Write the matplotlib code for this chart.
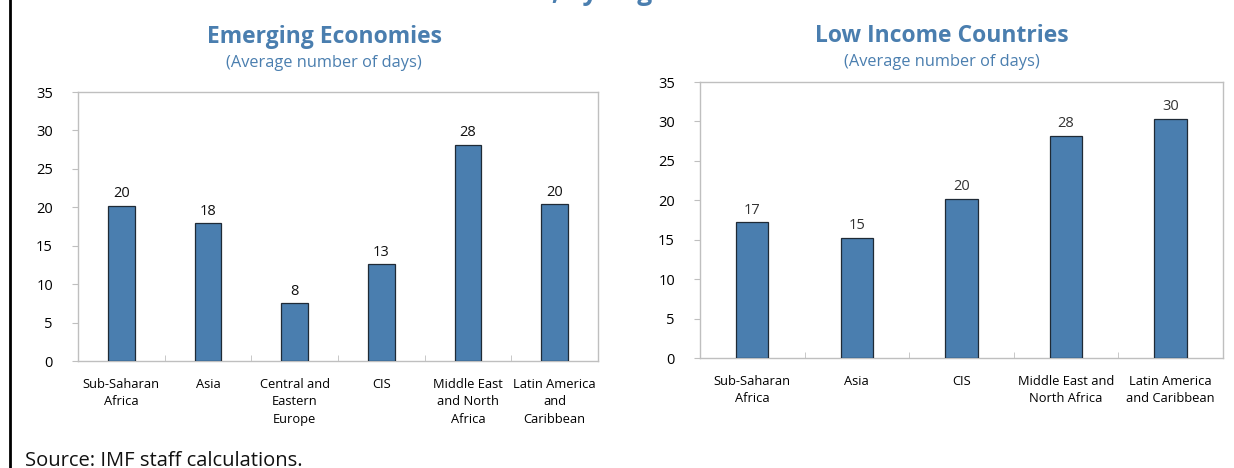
import matplotlib.pyplot as plt
from matplotlib.lines import Line2D

plt.rcParams['font.family'] = ['Open Sans', 'DejaVu Sans']

# Emerging economies
em_regions = ['Sub-Saharan\nAfrica', 'Asia', 'Central and\nEastern\nEurope', 'CIS',
              'Middle East\nand North\nAfrica', 'Latin America\nand\nCaribbean']
em_days = [20.2, 17.9, 7.5, 12.6, 28.1, 20.4]

# Low income countries
lic_regions = ['Sub-Saharan\nAfrica', 'Asia', 'CIS', 'Middle East and\nNorth Africa',
               'Latin America\nand Caribbean']
lic_days = [17.2, 15.2, 20.2, 28.2, 30.3]

yticks = [0, 5, 10, 15, 20, 25, 30, 35]

bar_color = '#4a7eaf'
title_color = '#4a7eaf'
spine_color = '#bfbfbf'

fig = plt.figure(figsize=(12.34, 4.68), dpi=100)


def panel(rect, names, values, label_color):
    ax = fig.add_axes(rect)
    x = list(range(len(values)))
    ax.bar(x, values, width=0.31, color=bar_color, edgecolor='#1f2a36', linewidth=0.9, zorder=3)
    ax.set_xlim(-0.5, len(values) - 0.5)
    ax.set_ylim(0, 35)
    ax.set_yticks(yticks)
    ax.tick_params(axis='y', length=4, color=spine_color, labelsize=10.5, pad=14)
    ax.set_xticks(x)
    ax.set_xticklabels(names, fontsize=9.3, linespacing=1.45)
    ax.tick_params(axis='x', length=0, pad=12)
    # separators between categories on the baseline
    ax.set_xticks([i + 0.5 for i in range(len(values) - 1)], minor=True)
    ax.tick_params(axis='x', which='minor', direction='in', length=4, color=spine_color)
    for s in ax.spines.values():
        s.set_color(spine_color)
        s.set_linewidth(1.0)
    for xi, v in zip(x, values):
        ax.text(xi, v + 0.6, f'{round(v):d}', ha='center', va='bottom', fontsize=10.5,
                color=label_color)
    return ax


ax1 = panel([0.0632, 0.2286, 0.4214, 0.5748], em_regions, em_days, '#111111')
ax2 = panel([0.5672, 0.2350, 0.4238, 0.5897], lic_regions, lic_days, '#333333')

fig.text(0.2626, 0.920, 'Emerging Economies', ha='center', va='center', fontsize=16.5,
         fontweight='bold', color=title_color)
fig.text(0.2626, 0.866, '(Average number of days)', ha='center', va='center', fontsize=11.8,
         color=title_color)
fig.text(0.7634, 0.923, 'Low Income Countries', ha='center', va='center', fontsize=16.5,
         fontweight='bold', color=title_color)
fig.text(0.7634, 0.867, '(Average number of days)', ha='center', va='center', fontsize=11.8,
         color=title_color)

# top title is cut off in the source image, only descenders show
fig.text(0.385, 1.001, 'Time to Clear Customs, by Region', ha='center', va='baseline',
         fontsize=19, fontweight='bold', color=title_color)

fig.text(0.020, 0.016, 'Source: IMF staff calculations.', ha='left', va='center',
         fontsize=14.5, color='#111111')

fig.add_artist(Line2D([0.0078, 0.0078], [0, 1], transform=fig.transFigure,
                      color='black', linewidth=2))

fig.savefig('out.png', dpi=100)
